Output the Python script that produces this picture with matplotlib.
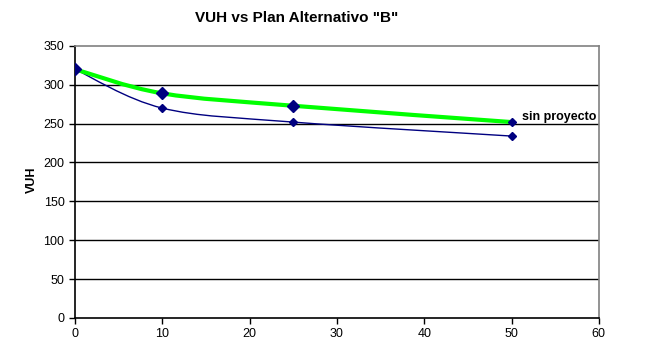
import matplotlib
matplotlib.use("Agg")
import matplotlib.pyplot as plt
from matplotlib.path import Path
from matplotlib.patches import PathPatch

plt.rcParams['font.family'] = ['Liberation Sans', 'DejaVu Sans']

# Data
years = [0, 10, 25, 50]
vuh_plan_b = [320, 289, 273, 252]
vuh_otro = [320, 270, 252, 234]
x_ticks = [0, 10, 20, 30, 40, 50, 60]
y_ticks = [0, 50, 100, 150, 200, 250, 300, 350]


def smooth_path(xs, ys):
    """Bezier path like Excel's smoothed line (Catmull-Rom control points)."""
    pts = list(zip(xs, ys))
    verts = [pts[0]]
    codes = [Path.MOVETO]
    n = len(pts)
    for i in range(n - 1):
        p0 = pts[i - 1] if i > 0 else pts[i]
        p1 = pts[i]
        p2 = pts[i + 1]
        p3 = pts[i + 2] if i + 2 < n else pts[i + 1]
        c1 = (p1[0] + (p2[0] - p0[0]) / 6, p1[1] + (p2[1] - p0[1]) / 6)
        c2 = (p2[0] - (p3[0] - p1[0]) / 6, p2[1] - (p3[1] - p1[1]) / 6)
        verts += [c1, c2, p2]
        codes += [Path.CURVE4] * 3
    return Path(verts, codes)


fig = plt.figure(figsize=(6.46, 3.56), dpi=100)
ax = fig.add_axes([0.116, 0.107, 0.811, 0.764])

for y in y_ticks[1:-1]:
    ax.axhline(y, color='black', linewidth=1.0, zorder=1)

# thin navy series
ax.add_patch(PathPatch(smooth_path(years, vuh_otro), facecolor='none',
                       edgecolor='#000080', linewidth=1.0, zorder=2))
ax.plot(years, vuh_otro, linestyle='none', marker='D', markersize=4,
        color='#000080', zorder=4)

# thick green series
ax.add_patch(PathPatch(smooth_path(years, vuh_plan_b), facecolor='none',
                       edgecolor='#00ff00', linewidth=3.0, zorder=3,
                       capstyle='round'))
ax.plot(years[:-1], vuh_plan_b[:-1], linestyle='none', marker='D', markersize=6.5,
        color='#000080', zorder=5)
ax.plot(years[-1:], vuh_plan_b[-1:], linestyle='none', marker='D', markersize=4,
        color='#000080', zorder=5)

ax.text(51.2, vuh_plan_b[-1] + 6, 'sin proyecto', fontsize=9, fontweight='bold',
        va='center', ha='left')

ax.set_xlim(0, 60)
ax.set_ylim(0, 350)
ax.set_xticks(x_ticks)
ax.set_yticks(y_ticks)
ax.tick_params(direction='out', length=4, width=1, labelsize=9, color='black')

for side in ['left', 'bottom']:
    ax.spines[side].set_color('black')
    ax.spines[side].set_linewidth(1.2)
for side in ['top', 'right']:
    ax.spines[side].set_color('#808080')
    ax.spines[side].set_linewidth(1.2)

fig.text(32 / 646, 1 - 180 / 356, 'VUH', fontsize=9, fontweight='bold',
         rotation=90, ha='center', va='center')
fig.text(297 / 646, 1 - 18 / 356, 'VUH vs Plan Alternativo "B"', fontsize=11,
         fontweight='bold', ha='center', va='center')

fig.savefig('out.png', dpi=100)
